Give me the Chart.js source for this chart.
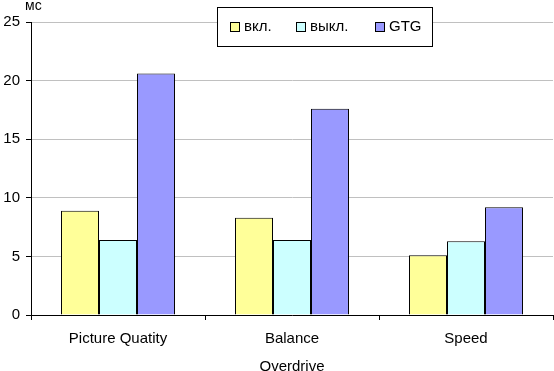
<!DOCTYPE html>
<html lang="ru">
<head>
  <meta charset="UTF-8" />
  <title>Overdrive</title>
  <script src="https://cdn.jsdelivr.net/npm/chart.js"></script>
  <style>
    html, body { margin: 0; padding: 0; background: #fff; }
    #wrap { width: 554px; height: 371px; position: relative; }
  </style>
</head>
<body>
  <div id="wrap"><canvas id="chart"></canvas></div>
  <script>
    const categories = ['Picture Quatity', 'Balance', 'Speed'];
    const seriesNames = ['вкл.', 'выкл.', 'GTG'];
    const onValues = [8.9, 8.3, 5.1];
    const offValues = [6.4, 6.4, 6.3];
    const gtgValues = [20.6, 17.6, 9.2];
    const colors = ['#FFFF99', '#CCFFFF', '#9999FF'];
    const font = 'Liberation Sans, Arial, sans-serif';

    // legend box and unit label drawn over the plot, like the original
    const overlay = {
      id: 'overlay',
      afterDraw(chart) {
        const ctx = chart.ctx;
        ctx.save();
        ctx.font = '14px ' + font;
        ctx.fillStyle = '#000';
        ctx.textBaseline = 'middle';
        ctx.fillText('мс', 25, 6);

        ctx.fillStyle = '#fff';
        ctx.fillRect(217.5, 7.5, 215, 39);
        ctx.strokeStyle = '#000';
        ctx.lineWidth = 1;
        ctx.strokeRect(217.5, 7.5, 215, 39);

        const xs = [230, 296, 375];
        chart.data.datasets.forEach((ds, i) => {
          ctx.fillStyle = ds.backgroundColor;
          ctx.fillRect(xs[i] + 0.5, 22.5, 9, 9);
          ctx.strokeRect(xs[i] + 0.5, 22.5, 9, 9);
          ctx.fillStyle = '#000';
          ctx.font = '15px ' + font;
          ctx.fillText(ds.label, xs[i] + 14, 27);
        });
        ctx.restore();
      }
    };

    new Chart(document.getElementById('chart'), {
      type: 'bar',
      data: {
        labels: categories,
        datasets: [
          { label: seriesNames[0], data: onValues, backgroundColor: colors[0] },
          { label: seriesNames[1], data: offValues, backgroundColor: colors[1] },
          { label: seriesNames[2], data: gtgValues, backgroundColor: colors[2] }
        ].map(d => Object.assign(d, {
          borderColor: '#000',
          borderWidth: 1,
          categoryPercentage: 0.655,
          barPercentage: 1
        }))
      },
      options: {
        responsive: true,
        maintainAspectRatio: false,
        animation: false,
        layout: { padding: { top: 22, right: 1, left: 0, bottom: 0 } },
        plugins: { legend: { display: false }, tooltip: { enabled: false } },
        scales: {
          x: {
            afterFit(scale) { scale.height = 56; },
            grid: {
              offset: true,
              drawOnChartArea: false,
              drawTicks: true,
              tickLength: 5,
              tickColor: '#000'
            },
            border: { display: true, color: '#000' },
            ticks: { color: '#000', font: { family: font, size: 15 }, padding: 10 },
            title: {
              display: true,
              text: 'Overdrive',
              color: '#000',
              font: { family: font, size: 15, lineHeight: 0.6 },
              padding: { top: 2, bottom: 0 }
            }
          },
          y: {
            min: 0,
            max: 25,
            afterFit(scale) { scale.width = 31; },
            grid: {
              color: '#c0c0c0',
              tickColor: '#000',
              tickLength: 5
            },
            border: { display: true, color: '#000' },
            ticks: {
              stepSize: 5,
              color: '#000',
              font: { family: font, size: 15 },
              padding: 6
            }
          }
        }
      },
      plugins: [overlay]
    });
  </script>
</body>
</html>
